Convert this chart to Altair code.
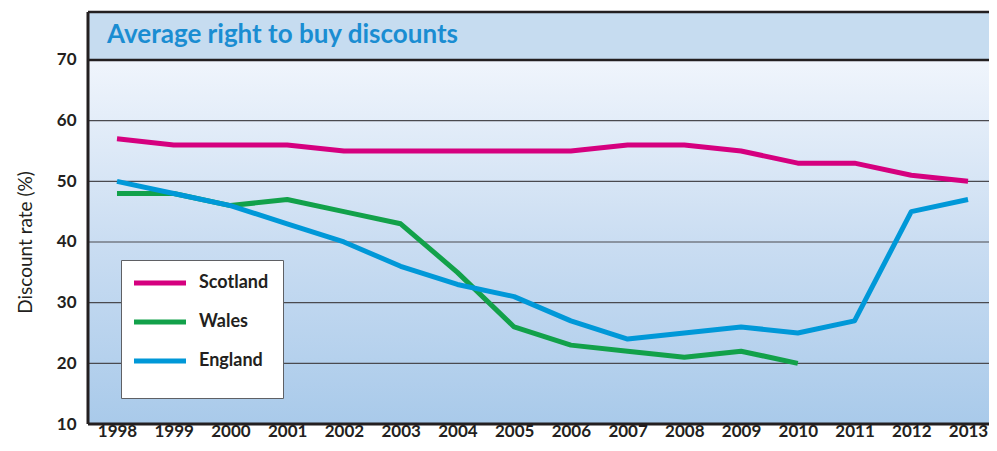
import altair as alt
import pandas as pd

years = list(range(1998, 2014))
scotland = [57, 56, 56, 56, 55, 55, 55, 55, 55, 56, 56, 55, 53, 53, 51, 50]
wales = [48, 48, 46, 47, 45, 43, 35, 26, 23, 22, 21, 22, 20]
england = [50, 48, 46, 43, 40, 36, 33, 31, 27, 24, 25, 26, 25, 27, 45, 47]

series = ["Scotland", "Wales", "England"]
colors = ["#D5007F", "#12A14A", "#0098D8"]
y_ticks = [10, 20, 30, 40, 50, 60, 70]
grid_vals = [20, 30, 40, 50, 60]
title_text = "Average right to buy discounts"
y_title = "Discount rate (%)"

rows = []
for name, vals in zip(series, [scotland, wales, england]):
    for yr, v in zip(years, vals):
        rows.append({"year": yr, "rate": v, "region": name})
df = pd.DataFrame(rows)

W, H = 901, 412
x_dom = [1997.489, 2013.37]
y_dom = [10, 77.91]
FONT = "Lato"
DARK = "#231F20"

xs = alt.Scale(domain=x_dom, nice=False, zero=False)
ys = alt.Scale(domain=y_dom, nice=False, zero=False)
one = alt.Data(values=[{"a": 1}])

band = alt.Chart(one).mark_rect(fill="#C6DCF0").encode(
    x=alt.value(0), x2=alt.value(W), y=alt.datum(70, scale=ys), y2=alt.value(0)
)

grad = alt.Gradient(
    gradient="linear", x1=0, y1=0, x2=0, y2=1,
    stops=[alt.GradientStop(color="#F0F5FC", offset=0),
           alt.GradientStop(color="#CADDF2", offset=0.5),
           alt.GradientStop(color="#A9CAEA", offset=1)],
)
bg = alt.Chart(one).mark_rect(fill=grad).encode(
    x=alt.value(0), x2=alt.value(W), y=alt.datum(70, scale=ys), y2=alt.datum(10)
)

grid = alt.Chart(pd.DataFrame({"g": grid_vals})).mark_rule(color="#4a4a4f", strokeWidth=1.2).encode(
    x=alt.value(0), x2=alt.value(W), y=alt.Y("g:Q", scale=ys)
)

lines = alt.Chart(df).mark_line(strokeWidth=5, strokeJoin="round", strokeCap="butt").encode(
    x=alt.X("year:Q", scale=xs,
            axis=alt.Axis(values=years, format="d", title=None, domain=False, ticks=False,
                          grid=False, labelFont=FONT, labelFontSize=17, labelFontWeight="bold",
                          labelColor=DARK, labelBaseline="alphabetic", labelPadding=12)),
    y=alt.Y("rate:Q", scale=ys,
            axis=alt.Axis(values=y_ticks, title=y_title, domain=False, ticks=False, grid=False,
                          labelFont=FONT, labelFontSize=17, labelFontWeight="bold",
                          labelColor=DARK, labelPadding=12,
                          titleFont=FONT, titleFontSize=19, titleFontWeight="normal",
                          titleColor=DARK, titleAngle=270, titleX=-63, titleY=230,
                          titleAlign="center", titleBaseline="middle")),
    color=alt.Color("region:N", scale=alt.Scale(domain=series, range=colors),
                    legend=alt.Legend(title=" ", titleOrient="bottom", titleFontSize=1,
                                      titlePadding=12,
                                      orient="none", legendX=33, legendY=248,
                                      fillColor="white", strokeColor="#5f6064",
                                      padding=14, rowPadding=19,
                                      symbolType="M-5,0H21", symbolSize=16,
                                      symbolStrokeWidth=5, labelOffset=46,
                                      labelFont=FONT, labelFontSize=18,
                                      labelFontWeight="bold", labelColor=DARK)),
    detail="region:N",
)

frame_top = alt.Chart(one).mark_rule(color=DARK, strokeWidth=2.5).encode(
    x=alt.value(0), x2=alt.value(W), y=alt.value(0))
frame_mid = alt.Chart(one).mark_rule(color=DARK, strokeWidth=2.5).encode(
    x=alt.value(0), x2=alt.value(W), y=alt.datum(70, scale=ys))
frame_bot = alt.Chart(one).mark_rule(color=DARK, strokeWidth=3).encode(
    x=alt.value(0), x2=alt.value(W), y=alt.datum(10, scale=ys))
frame_left = alt.Chart(one).mark_rule(color=DARK, strokeWidth=3).encode(
    x=alt.value(0), y=alt.value(0), y2=alt.value(H))

title = alt.Chart(one).mark_text(
    text=title_text, align="left", baseline="middle", font=FONT, fontSize=26,
    fontWeight="bold", color="#1A8DD2"
).encode(x=alt.value(19), y=alt.value(23))

chart = alt.layer(band, bg, grid, lines, frame_top, frame_mid, frame_bot, frame_left, title).properties(
    width=W, height=H,
    autosize=alt.AutoSizeParams(type="none"),
    padding={"left": 80, "top": 4, "right": 0, "bottom": 17},
).configure_view(stroke=None)

chart.save("out.html", embed_options={"renderer": "svg", "actions": False})
